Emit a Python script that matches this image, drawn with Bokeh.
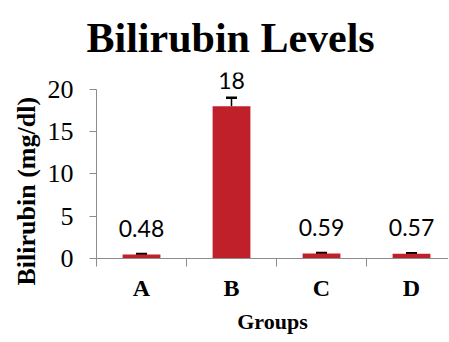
from bokeh.plotting import figure
from bokeh.models import Range1d, FixedTicker, ColumnDataSource, Whisker, TeeHead, Title
from bokeh.core.properties import value
from bokeh.embed import file_html
from bokeh.resources import INLINE

categories = ["A", "B", "C", "D"]
values = [0.48, 18, 0.59, 0.57]
errors = [0.05, 1.0, 0.05, 0.05]
value_labels = ["0.48", "18", "0.59", "0.57"]
y_ticks = [0, 5, 10, 15, 20]

xs = [i + 0.5 for i in range(len(categories))]
src = ColumnDataSource(dict(
    x=xs, top=values, upper=[v + e for v, e in zip(values, errors)],
    lbl=value_labels,
))

AX = "#8c8c8c"
p = figure(width=448, height=341, output_backend="svg", toolbar_location=None,
           x_range=Range1d(0, 3.911), y_range=Range1d(0, 22),
           min_border_left=96, min_border_right=0, min_border_top=72,
           min_border_bottom=83, title="Bilirubin Levels")
p.outline_line_color = None
p.grid.visible = False

p.title.text_font = "Liberation Serif"
p.title.text_font_style = "bold"
p.title.text_font_size = "42px"
p.title.text_color = "black"
p.title.align = "left"
p.title.vertical_align = "top"
p.title.offset = -10
p.title.standoff = 19

p.vbar(x="x", top="top", width=0.42, bottom=0, source=src,
       fill_color="#C0202A", line_color=None)
w = Whisker(base="x", upper="upper", lower="top", source=src,
            line_color="black", line_width=1.5,
            upper_head=TeeHead(size=11, line_color="black", line_width=2.5),
            lower_head=None)
p.add_layout(w)

p.text(x="x", y="top", text="lbl", source=src, text_align="center",
       text_baseline="alphabetic", y_offset=-26,
       text_font=value("Lato"), text_font_size="23px", text_color="black")

xa = p.xaxis[0]
xa.ticker = FixedTicker(ticks=xs, minor_ticks=[0, 1, 2, 3])
xa.major_label_overrides = {x: c for x, c in zip(xs, categories)}
xa.major_tick_line_color = None
xa.major_tick_out = 8
xa.major_tick_in = 0
xa.minor_tick_out = 8
xa.minor_tick_in = 0
xa.minor_tick_line_color = AX
xa.axis_line_color = AX
xa.major_label_text_font = "Liberation Serif"
xa.major_label_text_font_style = "bold"
xa.major_label_text_font_size = "24px"
xa.major_label_text_color = "black"
xa.major_label_standoff = 8
xa.axis_label = "Groups"
xa.axis_label_text_font = "Liberation Serif"
xa.axis_label_text_font_style = "bold"
xa.axis_label_text_font_size = "22px"
xa.axis_label_text_color = "black"
xa.axis_label_standoff = 5

ya = p.yaxis[0]
ya.ticker = FixedTicker(ticks=y_ticks, minor_ticks=[])
ya.bounds = (0, 20)
ya.major_tick_out = 7
ya.major_tick_in = 0
ya.major_tick_line_color = AX
ya.axis_line_color = AX
ya.major_label_text_font = "Liberation Serif"
ya.major_label_text_font_size = "26px"
ya.major_label_text_color = "black"
ya.major_label_standoff = 16

ylab = Title(text="Bilirubin (mg/dl)", align="left", offset=-27, standoff=8,
             text_font="Liberation Serif", text_font_style="bold",
             text_font_size="26px", text_color="black")
p.add_layout(ylab, "left")

open("out.html", "w").write(file_html(p, INLINE))
